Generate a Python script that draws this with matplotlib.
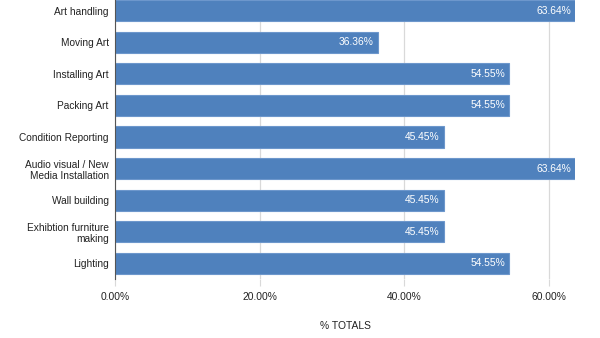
import matplotlib.pyplot as plt

plt.rcParams["font.family"] = ["Liberation Sans", "DejaVu Sans"]

categories = ["Art handling", "Moving Art", "Installing Art", "Packing Art",
              "Condition Reporting", "Audio visual / New\nMedia Installation",
              "Wall building", "Exhibtion furniture\nmaking", "Lighting"]
values = [63.64, 36.36, 54.55, 54.55, 45.45, 63.64, 45.45, 45.45, 54.55]
xticks = [0, 20, 40, 60]

fig = plt.figure(figsize=(6, 3.38), dpi=100)
ax = fig.add_axes([115 / 600, 1 - 279.3 / 338, 460 / 600, 284.6 / 338])

ypos = list(range(len(categories)))
ax.barh(ypos, values, height=0.665, color="#4f81bd", edgecolor="#6d97cc",
        linewidth=0.8, zorder=3)
for y, v in zip(ypos, values):
    ax.text(v - 0.55, y, f"{v:.2f}%", color="white", fontsize=7.4,
            ha="right", va="center", zorder=4)

ax.set_ylim(len(categories) - 0.5, -0.5)
ax.set_xlim(0, 63.64)
ax.set_yticks(ypos)
ax.set_yticklabels(categories, fontsize=7.3, color="#222222", linespacing=1.2)
ax.set_xticks(xticks)
ax.set_xticklabels([f"{t:.2f}%" for t in xticks], fontsize=7.4, color="#222222")
ax.tick_params(axis="y", length=0, pad=4.5)
ax.tick_params(axis="x", length=5, color="#d9d9d9", pad=4)
ax.grid(axis="x", color="#d9d9d9", linewidth=0.9, zorder=0)
for s in ["top", "right", "bottom"]:
    ax.spines[s].set_visible(False)
ax.spines["left"].set_color("#555555")
ax.spines["left"].set_zorder(5)
ax.set_xlabel("% TOTALS", fontsize=7.4, color="#222222", labelpad=14)

fig.savefig("out.png", dpi=100)
